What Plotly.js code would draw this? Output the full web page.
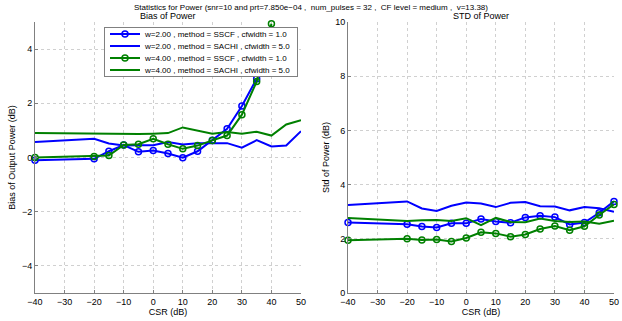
<!DOCTYPE html>
<html><head><meta charset="utf-8">
<script src="https://cdn.plot.ly/plotly-3.0.1.min.js"></script>
<style>html,body{margin:0;padding:0;background:#fff}#c{width:622px;height:321px}</style>
</head><body><div id="c"></div>
<script>
const csr = [-40,-20,-15,-10,-5,0,5,10,15,20,25,30,35,40,45,50];
const csrSscfW2 = [-40,-20,-15,-10,-5,0,5,10,15,20,25,30,35];
const csrSscfW4 = [-40,-20,-15,-10,-5,0,5,10,15,20,25,30,35,40];

// Bias of power
const biasW2Sscf  = [-0.10,-0.05,0.23,0.46,0.21,0.26,0.15,-0.01,0.23,0.64,1.06,1.90,2.91];
const biasW2Sachi = [0.57,0.69,0.52,0.44,0.45,0.45,0.57,0.48,0.53,0.53,0.53,0.36,0.64,0.41,0.44,0.97];
const biasW4Sscf  = [0.00,0.04,0.07,0.46,0.49,0.69,0.49,0.32,0.44,0.63,0.81,1.58,2.80,4.94];
const biasW4Sachi = [0.90,0.88,0.87,0.86,0.87,0.88,0.90,1.11,1.00,0.88,0.94,0.88,0.95,0.81,1.22,1.38];

// Std of power
const stdW2Sscf  = [2.60,2.54,2.45,2.42,2.57,2.57,2.73,2.64,2.59,2.79,2.85,2.80,2.53,2.60,2.96,3.38];
const stdW2Sachi = [3.25,3.38,3.12,3.03,3.22,3.34,3.30,3.17,3.33,3.36,3.20,3.19,3.05,3.17,3.13,3.00];
const stdW4Sscf  = [1.95,2.00,1.96,1.97,1.90,2.03,2.24,2.20,2.08,2.16,2.36,2.47,2.32,2.46,2.88,3.27];
const stdW4Sachi = [2.77,2.66,2.68,2.69,2.66,2.76,2.50,2.77,2.62,2.61,2.75,2.66,2.62,2.64,2.56,2.67];

const names = ['w=2.00 , method = SSCF , cfwidth = 1.0','w=2.00 , method = SACHI , cfwidth = 5.0',
               'w=4.00 , method = SSCF , cfwidth = 1.0','w=4.00 , method = SACHI , cfwidth = 5.0'];
const BLUE='#0000ff', GREEN='#008000';
const mk = c => ({symbol:'circle-open', size:6, color:c, line:{color:c, width:1.5}});

const traces = [
 {x:csrSscfW2, y:biasW2Sscf, name:names[0], mode:'lines+markers', line:{color:BLUE,width:2}, marker:mk(BLUE), xaxis:'x', yaxis:'y', cliponaxis:false},
 {x:csr, y:biasW2Sachi, name:names[1], mode:'lines', line:{color:BLUE,width:2}, xaxis:'x', yaxis:'y'},
 {x:csrSscfW4, y:biasW4Sscf, name:names[2], mode:'lines+markers', line:{color:GREEN,width:2}, marker:mk(GREEN), xaxis:'x', yaxis:'y', cliponaxis:false},
 {x:csr, y:biasW4Sachi, name:names[3], mode:'lines', line:{color:GREEN,width:2}, xaxis:'x', yaxis:'y'},
 {x:csr, y:stdW2Sscf, mode:'lines+markers', line:{color:BLUE,width:2}, marker:mk(BLUE), xaxis:'x2', yaxis:'y2', showlegend:false, cliponaxis:false},
 {x:csr, y:stdW2Sachi, mode:'lines', line:{color:BLUE,width:2}, xaxis:'x2', yaxis:'y2', showlegend:false},
 {x:csr, y:stdW4Sscf, mode:'lines+markers', line:{color:GREEN,width:2}, marker:mk(GREEN), xaxis:'x2', yaxis:'y2', showlegend:false, cliponaxis:false},
 {x:csr, y:stdW4Sachi, mode:'lines', line:{color:GREEN,width:2}, xaxis:'x2', yaxis:'y2', showlegend:false}
];

const F = {family:'Liberation Sans, Arial, sans-serif', size:9, color:'#000'};
const ydom = [(321-293)/321, (321-22)/321];
const xax = (dom, anchor) => ({domain:dom, anchor:anchor, range:[-40,50], tickvals:[-40,-30,-20,-10,0,10,20,30,40,50],
  showgrid:true, gridcolor:'#d0d0d0', griddash:'dot', gridwidth:1, zeroline:false, showline:true, linecolor:'#808080', linewidth:1,
  ticks:'inside', ticklen:3, tickcolor:'#808080', tickfont:F, title:{text:'CSR (dB)', font:F, standoff:2}});
const yax = (dom, anchor, rng, tv, t) => ({domain:dom, anchor:anchor, range:rng, tickvals:tv,
  showgrid:true, gridcolor:'#d0d0d0', griddash:'dot', gridwidth:1, zeroline:false, showline:true, linecolor:'#808080', linewidth:1,
  ticks:'inside', ticklen:3, tickcolor:'#808080', tickfont:F, title:{text:t, font:F, standoff:4}});

const layout = {
  width:622, height:321, margin:{l:0,r:0,t:0,b:0}, paper_bgcolor:'#fff', plot_bgcolor:'#fff', font:F,
  title:{text:'Statistics for Power (snr=10 and prt=7.850e\u221204 ,  num_pulses = 32 ,  CF level = medium ,  v=13.38)', font:{family:F.family,size:8,color:'#000'}, x:0.5, xanchor:'center', y:(321-7)/321, yanchor:'middle'},
  xaxis: xax([35/622, 301/622], 'y'),
  yaxis: yax(ydom, 'x', [-5,5], [-4,-2,0,2,4], 'Bias of Output Power (dB)'),
  xaxis2: xax([348/622, 614/622], 'y2'),
  yaxis2: yax(ydom, 'x2', [0,10], [0,2,4,6,8,10], 'Std of Power (dB)'),
  legend:{x:298/622, xanchor:'right', y:(321-27)/321, yanchor:'top', bgcolor:'#fff', bordercolor:'#808080', borderwidth:1,
    font:{family:F.family,size:8,color:'#000'}, tracegroupgap:0, itemwidth:30},
  annotations:[
    {text:'Bias of Power', xref:'paper', yref:'paper', x:(35+301)/2/622, y:(321-16)/321, showarrow:false, font:F, xanchor:'center', yanchor:'middle'},
    {text:'STD of Power', xref:'paper', yref:'paper', x:(348+614)/2/622, y:(321-16)/321, showarrow:false, font:F, xanchor:'center', yanchor:'middle'}
  ],
  showlegend:true
};
Plotly.newPlot('c', traces, layout, {displayModeBar:false, staticPlot:true}).then(gd => {
  // compact the legend rows to Matlab-like spacing
  const leg = gd.querySelector('.legend');
  if (!leg) return;
  const items = leg.querySelectorAll('g.traces');
  const step = 12, first = 7;
  items.forEach((it, i) => {
    const tr = it.getAttribute('transform') || '';
    const m = tr.match(/translate\(\s*([-\d.]+)[ ,]+([-\d.]+)\s*\)/);
    const x = m ? m[1] : 0;
    it.setAttribute('transform', 'translate(' + x + ',' + (first + i * step) + ')');
  });
  const bg = leg.querySelector('rect.bg');
  if (bg) bg.setAttribute('height', String(first + (items.length - 1) * step + 6));
});
</script></body></html>
